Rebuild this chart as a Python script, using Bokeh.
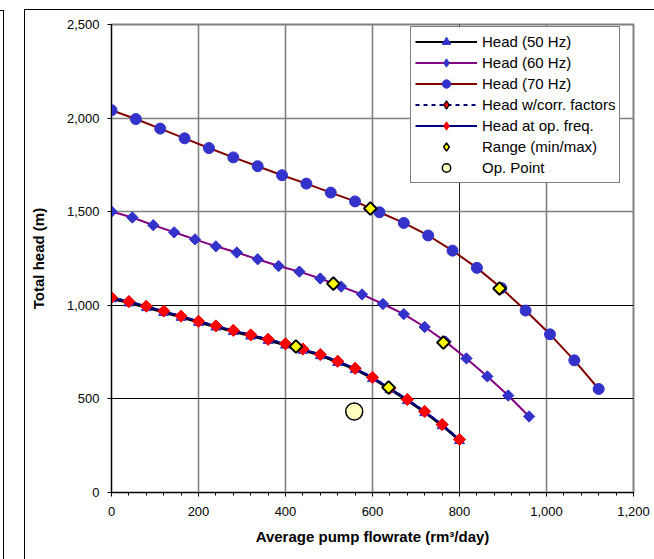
import numpy as np
from bokeh.plotting import figure
from bokeh.models import (Legend, LegendItem, NumeralTickFormatter, FixedTicker,
                          Grid, InlineStyleSheet, Range1d, ColumnDataSource)
from bokeh.embed import file_html
from bokeh.resources import INLINE

# ---------------- data ----------------
flow_50 = [0, 40, 80, 120, 160, 200, 240, 280, 320, 360, 400, 440, 480, 520,
           560, 600, 640, 680, 720, 760, 800]
head_50 = [1034, 1012, 987, 961, 935, 908, 883, 859, 835, 811, 787, 759, 730,
           694, 656, 608, 550, 490, 426, 356, 277]

flow_60 = [0, 48, 96, 144, 192, 240, 288, 336, 384, 432, 480, 528, 576, 624,
           672, 720, 768, 816, 864, 912, 960]
head_60 = [1501, 1469, 1428, 1390, 1352, 1315, 1282, 1246, 1210, 1180, 1143,
           1100, 1058, 1007, 953, 884, 806, 716, 620, 518, 406]

flow_70 = [0, 56, 112, 168, 224, 280, 336, 392, 448, 504, 560, 616, 672, 728,
           784, 840, 896, 952, 1008, 1064, 1120]
head_70 = [2042, 1995, 1944, 1892, 1840, 1790, 1743, 1695, 1650, 1602, 1555,
           1497, 1440, 1373, 1292, 1200, 1092, 972, 845, 706, 553]

flow_corr = flow_50
head_corr = [1042, 1020, 995, 969, 942, 915, 890, 866, 842, 818, 794, 766, 737,
             701, 663, 615, 557, 497, 433, 363, 283]

flow_op = flow_50
head_op = [1042, 1020, 995, 969, 942, 915, 890, 866, 842, 818, 794, 766, 737,
           701, 663, 615, 557, 497, 433, 363, 283]

range_flow = [424, 637, 510, 763, 595, 892]
range_head = [780, 561, 1116, 801, 1517, 1090]

op_flow = [558]
op_head = [433]

x_ticks = [0, 200, 400, 600, 800, 1000, 1200]
y_ticks = [0, 500, 1000, 1500, 2000, 2500]

FONT = "Liberation Sans"
MARK = "#3333CC"

css = """
:host::before { content: ""; position: absolute; left: 24px; top: 9px; right: 0; bottom: 0;
  border-left: 1px solid #000; border-top: 1px solid #000; pointer-events: none; z-index: 5; }
:host::after { content: ""; position: absolute; left: 0; top: 10px; width: 3px; bottom: 0;
  border-right: 1px solid #000; border-top: 1px solid #000; pointer-events: none; z-index: 5; }
"""

p = figure(width=654, height=559, output_backend="svg", toolbar_location=None,
           x_range=Range1d(0, 1200), y_range=Range1d(0, 2500),
           min_border_left=111, min_border_right=21, min_border_top=24,
           min_border_bottom=67, background_fill_color="white",
           border_fill_color="white")
p.stylesheets = [InlineStyleSheet(css=css)]

p.outline_line_color = "#808080"
p.outline_line_width = 2

# grids
p.xgrid.grid_line_color = None
p.ygrid.grid_line_color = None
p.add_layout(Grid(dimension=0, ticker=FixedTicker(ticks=[200, 400, 600, 1000]),
                  grid_line_color="#808080", grid_line_width=1.6), "center")
p.add_layout(Grid(dimension=0, ticker=FixedTicker(ticks=[800]),
                  grid_line_color="#202020", grid_line_width=1), "center")
p.add_layout(Grid(dimension=1, ticker=FixedTicker(ticks=[1500, 2000]),
                  grid_line_color="#808080", grid_line_width=1.6), "center")
p.add_layout(Grid(dimension=1, ticker=FixedTicker(ticks=[500, 1000]),
                  grid_line_color="#000000", grid_line_width=1), "center")

# axes
p.xaxis.ticker = FixedTicker(ticks=x_ticks, minor_ticks=list(range(0, 1201, 40)))
p.yaxis.ticker = FixedTicker(ticks=y_ticks)
p.xaxis.formatter = NumeralTickFormatter(format="0,0")
p.yaxis.formatter = NumeralTickFormatter(format="0,0")
for ax in (p.xaxis, p.yaxis):
    ax.axis_line_color = "black"
    ax.major_tick_line_color = "black"
    ax.minor_tick_line_color = "black"
    ax.major_tick_in = 0
    ax.major_tick_out = 4
    ax.minor_tick_in = 0
    ax.minor_tick_out = 3
    ax.major_label_text_font = FONT
    ax.major_label_text_font_size = "13px"
    ax.major_label_text_color = "black"
    ax.axis_label_text_font = FONT
    ax.axis_label_text_font_style = "bold"
    ax.axis_label_text_font_size = "15px"
    ax.axis_label_text_color = "black"
p.yaxis.minor_tick_line_color = None
p.xaxis.axis_label = "Average pump flowrate (rm³/day)"
p.yaxis.axis_label = "Total head (m)"
p.xaxis.major_label_standoff = 10
p.yaxis.major_label_standoff = 8
p.xaxis.axis_label_standoff = 9
p.yaxis.axis_label_standoff = 17

DIAM = np.pi / 4

# 50 Hz
l50 = p.line(flow_50, head_50, line_color="black", line_width=2)
m50 = p.scatter(flow_50, head_50, marker="triangle", size=10, fill_color=MARK,
                line_color=MARK)
# 60 Hz
l60 = p.line(flow_60, head_60, line_color="#800080", line_width=2)
m60 = p.scatter(flow_60, head_60, marker="square", angle=DIAM, size=8,
                fill_color=MARK, line_color=MARK)
# 70 Hz
l70 = p.line(flow_70, head_70, line_color="#800000", line_width=2)
m70 = p.scatter(flow_70, head_70, marker="circle", size=11, fill_color=MARK,
                line_color=MARK)
# with correction factors
lc = p.line(flow_corr, head_corr, line_color="#000080", line_width=2,
            line_dash="4 4")
mc = p.scatter(flow_corr, head_corr, marker="square", angle=DIAM, size=8,
               fill_color="red", line_color="black", line_width=1)
# at operating frequency
lo = p.line(flow_op, head_op, line_color="#000080", line_width=2)
mo = p.scatter(flow_op, head_op, marker="square", angle=DIAM, size=8.5,
               fill_color="#FF0000", line_color="#FF0000")
# range
mr = p.scatter(range_flow, range_head, marker="square", angle=DIAM, size=9,
               fill_color="#FFFF00", line_color="black", line_width=2)
# op point
mp = p.scatter(op_flow, op_head, marker="circle", size=17, fill_color="#FFFFC0",
               line_color="black", line_width=1.5)

# legend-only diamond markers (legend does not rotate markers); NaN = not drawn
def legend_src():
    return ColumnDataSource(dict(x=[np.nan], y=[np.nan]))

g60 = p.scatter("x", "y", source=legend_src(), marker="diamond",
                fill_color=MARK, line_color=MARK)
gc = p.scatter("x", "y", source=legend_src(), marker="diamond",
               fill_color="red", line_color="black", line_width=1.2)
go = p.scatter("x", "y", source=legend_src(), marker="diamond",
               fill_color="#FF0000", line_color="#FF0000")
gr = p.scatter("x", "y", source=legend_src(), marker="diamond",
               fill_color="#FFFF00", line_color="black", line_width=1.5)

legend = Legend(items=[
    LegendItem(label="Head (50 Hz)", renderers=[l50, m50]),
    LegendItem(label="Head (60 Hz)", renderers=[l60, g60]),
    LegendItem(label="Head (70 Hz)", renderers=[l70, m70]),
    LegendItem(label="Head w/corr. factors", renderers=[lc, gc]),
    LegendItem(label="Head at op. freq.", renderers=[lo, go]),
    LegendItem(label="Range (min/max)", renderers=[gr]),
    LegendItem(label="Op. Point", renderers=[mp]),
], location=(299, 309))
legend.border_line_color = "black"
legend.border_line_width = 1
legend.background_fill_color = "white"
legend.background_fill_alpha = 1
legend.label_text_font = FONT
legend.label_text_font_size = "15px"
legend.label_text_color = "black"
legend.label_height = 21
legend.glyph_height = 21
legend.glyph_width = 62
legend.spacing = 0
legend.padding = 4
legend.margin = 0
legend.label_standoff = 5
p.add_layout(legend, "center")

open("out.html", "w").write(file_html(p, INLINE))
